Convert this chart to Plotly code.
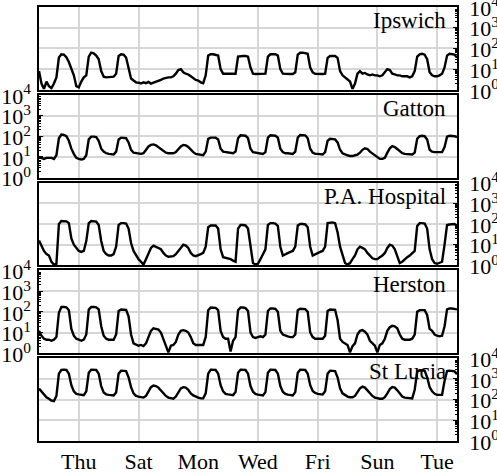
import pandas as pd
import plotly.graph_objects as go

# 2-hourly readings, Tue 16:00 -> Tue 16:00 two weeks later (169 points)
start_time = "2021-03-02 16:00"
n_points = 169

site_names = ["Ipswich", "Gatton", "P.A. Hospital", "Herston", "St Lucia"]

ipswich = [
    8, 2, 1.1, 2.5,
    1.5, 1.2, 2, 4, 36, 52, 50, 38, 22, 10, 5, 1.5,
    1.3, 2.5, 4, 5, 40, 62, 58, 45, 30, 8, 4.3, 4,
    4, 4, 4.3, 6, 43, 52, 50, 36, 12, 3.5, 2.8, 2.3,
    2.2, 2.0, 2.3, 2.1, 2.4, 2.0, 2.2, 2.4, 2.6, 3.0, 3.5, 3.8,
    4, 4, 4.5, 6, 9, 10, 7, 6, 5.5, 4.5, 3.5, 3,
    2.8, 2.3, 2.1, 5, 45, 52, 52, 50, 45, 10, 6, 6,
    6, 6, 5.8, 6, 40, 43, 43, 43, 40, 12, 6, 5.8,
    5.8, 5.8, 5.8, 6, 40, 52, 52, 52, 45, 10, 6, 5.8,
    5.8, 5.8, 5.8, 7, 50, 62, 62, 60, 55, 12, 7, 6,
    5.8, 5.8, 5.8, 6, 35, 43, 43, 43, 35, 8, 5, 4,
    3, 2.5, 1.1, 2, 6, 8, 6, 6.5, 5.5, 5, 5.5, 5,
    5, 4.5, 5, 7, 10, 9, 6, 5.5, 5, 5, 4.5, 4.5,
    4.5, 4, 4.5, 8, 40, 52, 55, 50, 30, 7, 5, 4.5,
    4.5, 5, 6, 12, 45, 55, 52, 50, 35,
]

gatton = [
    10, 9, 8, 9,
    9, 9, 8, 12, 80, 120, 115, 100, 60, 25, 14, 9,
    8, 7.5, 8, 12, 70, 95, 95, 90, 60, 25, 18, 15,
    14, 13, 13, 18, 70, 85, 85, 80, 50, 22, 16, 15,
    14, 14, 15, 22, 32, 38, 40, 36, 30, 24, 19, 16,
    15, 15, 15, 17, 24, 32, 38, 36, 30, 22, 17, 14,
    13, 12, 12, 18, 75, 85, 88, 85, 70, 25, 18, 17,
    16, 15, 15, 18, 80, 110, 110, 105, 80, 25, 17, 16,
    15, 15, 14, 17, 85, 110, 110, 105, 85, 25, 17, 15,
    15, 14, 14, 18, 85, 115, 115, 110, 80, 25, 16, 14,
    14, 14, 13, 17, 60, 75, 75, 70, 50, 22, 15, 13,
    12, 11, 11, 12, 13, 16, 22, 26, 24, 18, 15, 12,
    10, 8, 8, 9, 16, 26, 33, 30, 24, 18, 15, 14,
    14, 13, 13, 16, 75, 100, 105, 100, 70, 22, 18, 17,
    17, 16, 17, 30, 95, 105, 105, 100, 90,
]

pa_hospital = [
    16, 9, 5, 3.5,
    3, 1.5, 1.1, 1.2, 100, 140, 140, 135, 110, 20, 10, 7,
    5, 4.5, 5, 15, 110, 140, 140, 130, 90, 15, 5, 3.5,
    3, 3, 3.5, 8, 90, 110, 110, 105, 60, 12, 5, 3,
    2, 1.5, 1.1, 2, 4, 7, 9, 8, 7, 6, 4, 3,
    2.6, 2.6, 2.8, 3.5, 5, 8, 10, 9, 7, 4, 3, 2.8,
    3, 3.5, 4, 8, 70, 85, 85, 85, 60, 6, 2.5, 2.3,
    2.2, 2, 1.7, 1.5, 60, 90, 90, 85, 60, 8, 1.3, 1.1,
    1.2, 2, 3.5, 6, 90, 110, 110, 105, 80, 8, 3, 3.5,
    4, 4.5, 5, 8, 85, 100, 100, 95, 70, 8, 3, 3.5,
    4, 4.5, 5, 8, 110, 120, 120, 110, 40, 8, 3, 1.3,
    1.1, 1.3, 2, 3, 6, 8, 7, 6, 4, 3, 2.2, 2,
    2, 2.5, 3, 4, 7, 10, 9, 6, 3, 1.3, 1.5, 2,
    2.5, 3, 3.8, 5, 80, 110, 110, 105, 60, 6, 2, 1.3,
    1.2, 1.3, 1.5, 10, 90, 95, 95, 100, 80,
]

herston = [
    12, 7, 5, 4.5,
    4.5, 4, 4.5, 6, 90, 170, 170, 165, 120, 15, 7, 5,
    4.5, 4, 4.5, 8, 130, 170, 170, 165, 130, 20, 7, 5,
    4.5, 4.5, 4.5, 8, 110, 130, 130, 125, 60, 8, 3, 2.5,
    2.3, 2.5, 2.2, 3, 6, 12, 16, 15, 14, 10, 5, 2.5,
    1.1, 2.3, 2.5, 3.5, 8, 12, 13, 12, 10, 6, 3, 2.5,
    2.5, 2.3, 2.5, 6, 120, 160, 160, 155, 120, 12, 6, 5,
    5, 1.2, 4, 6, 120, 160, 160, 150, 110, 10, 6, 5.5,
    6, 6.5, 6, 8, 110, 145, 145, 140, 100, 12, 8, 7,
    6.5, 6, 6, 8, 120, 140, 140, 135, 100, 10, 6, 5,
    5, 5, 5, 7, 110, 130, 130, 125, 40, 5, 3.5, 3,
    2.5, 1.1, 2.2, 3, 8, 12, 13, 11, 8, 4, 3, 2.3,
    1.1, 2.5, 3, 5, 12, 18, 21, 20, 16, 8, 5, 4.5,
    4.5, 4.5, 5, 8, 100, 120, 120, 120, 70, 15, 12, 8,
    7, 6.5, 7, 20, 130, 145, 145, 140, 130,
]

st_lucia = [
    340, 250, 180, 130,
    110, 90, 85, 150, 1800, 2700, 2800, 2700, 1800, 500, 250, 190,
    180, 170, 165, 250, 2000, 2800, 2800, 2700, 1800, 450, 220, 180,
    170, 165, 160, 220, 1800, 2500, 2500, 2400, 1200, 400, 200, 150,
    140, 130, 125, 150, 250, 400, 480, 450, 380, 280, 200, 150,
    125, 115, 110, 140, 230, 350, 400, 380, 300, 200, 160, 135,
    125, 115, 115, 200, 1800, 2800, 2800, 2700, 1800, 500, 250, 190,
    180, 170, 165, 230, 2000, 2800, 2800, 2700, 1800, 450, 240, 190,
    175, 165, 160, 230, 2000, 2800, 2800, 2700, 1800, 450, 240, 190,
    175, 165, 160, 230, 2000, 2800, 2800, 2700, 1800, 500, 260, 210,
    190, 180, 175, 250, 1800, 2500, 2500, 2400, 1200, 350, 200, 160,
    140, 130, 130, 150, 230, 350, 420, 380, 280, 200, 150, 125,
    115, 110, 110, 130, 200, 320, 400, 380, 280, 190, 140, 125,
    120, 115, 115, 300, 2200, 2600, 2600, 2500, 1200, 400, 250, 190,
    170, 165, 170, 800, 2400, 2500, 2500, 2300, 1700,
]

y_tick_values = [1, 10, 100, 1000, 10000]
y_tick_text = ["10<sup>0</sup>", "10<sup>1</sup>", "10<sup>2</sup>", "10<sup>3</sup>", "10<sup>4</sup>"]
x_range = ["2021-03-02 16:00", "2021-03-16 16:00"]

times = pd.date_range(start_time, periods=n_points, freq="2h")
series = [ipswich, gatton, pa_hospital, herston, st_lucia]
sides = ["right", "left", "right", "left", "right"]

FONT = "Liberation Serif"
W, H = 497, 472
m_l, m_r, m_t, m_b = 39, 40, 7, 31
plot_h = H - m_t - m_b
gap = 5.0 / plot_h
ph = (1 - 4 * gap) / 5

minor_vals = [m * 10 ** e for e in range(4) for m in range(2, 10)]

fig = go.Figure()
layout = {}
for k in range(5):
    xa = "x" if k == 0 else f"x{k+1}"
    ya = "y" if k == 0 else f"y{k+1}"
    fig.add_trace(go.Scatter(x=times, y=series[k], mode="lines",
                             line=dict(color="black", width=2.4),
                             xaxis=xa, yaxis=ya, showlegend=False))
    top = 1 - k * (ph + gap)
    bot = top - ph
    xkey = "xaxis" if k == 0 else f"xaxis{k+1}"
    ykey = "yaxis" if k == 0 else f"yaxis{k+1}"
    layout[xkey] = dict(
        domain=[0, 1], anchor=ya, type="date", range=x_range,
        tickformat="%a", dtick=2 * 86400000, tick0="2021-03-04",
        showticklabels=(k == 4), ticks="",
        showgrid=True, gridcolor="#d6d6d6", gridwidth=1.6,
        showline=True, mirror=True, linecolor="black", linewidth=1.5,
        tickfont=dict(family=FONT, size=22, color="black"),
        zeroline=False,
    )
    if k > 0:
        layout[xkey]["matches"] = "x"
    layout[ykey] = dict(
        domain=[bot, top], anchor=xa, type="log", range=[0, 4],
        side=sides[k], tickmode="array", tickvals=y_tick_values, ticktext=y_tick_text,
        ticks="inside", ticklen=4, tickwidth=1, tickcolor="black",
        minor=dict(tickmode="array", tickvals=minor_vals, ticks="inside",
                   ticklen=2, tickwidth=1, tickcolor="black", showgrid=False),
        showgrid=True, gridcolor="#d6d6d6", gridwidth=1.6,
        showline=True, mirror=True, linecolor="black", linewidth=1.5,
        tickfont=dict(family=FONT, size=22, color="black"),
        ticklabeloverflow="allow", ticklabelshift=1,
        ticklabelstandoff=(6 if sides[k] == "right" else 2),
        zeroline=False,
    )
    fig.add_annotation(text=site_names[k], xref=f"{xa} domain", yref=f"{ya} domain",
                       x=0.978, y=1.01, xanchor="right", yanchor="top", showarrow=False,
                       font=dict(family=FONT, size=23, color="black"))

fig.update_layout(**layout)
fig.update_layout(width=W, height=H, margin=dict(l=m_l, r=m_r, t=m_t, b=m_b, autoexpand=False),
                  paper_bgcolor="white", plot_bgcolor="white",
                  font=dict(family=FONT, color="black"))
fig.write_html("out.html")
